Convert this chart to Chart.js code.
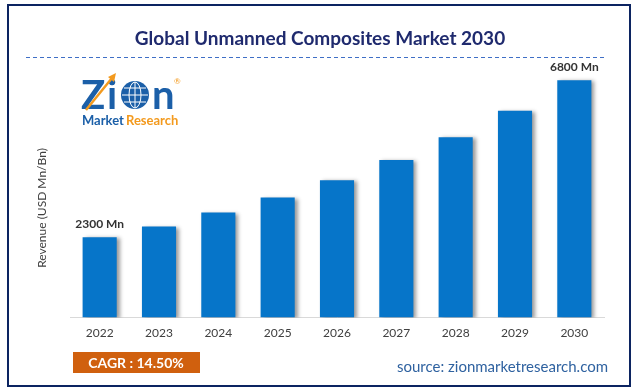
<!DOCTYPE html>
<html>
<head>
<meta charset="utf-8">
<script src="https://cdn.jsdelivr.net/npm/chart.js@4.4.1/dist/chart.umd.min.js"></script>
<style>
  html, body { margin: 0; padding: 0; background: #fff; }
  #wrap { width: 638px; height: 392px; position: relative; }
</style>
</head>
<body>
<div id="wrap"><canvas id="chart_unmannedComposites"></canvas></div>
<script>
// values (USD Mn)
var years = ['2022', '2023', '2024', '2025', '2026', '2027', '2028', '2029', '2030'];
var revenue = [2300, 2610, 3010, 3440, 3940, 4520, 5170, 5930, 6800];
var labelledBars = { 0: '2300 Mn', 8: '6800 Mn' };
var chartTitle = 'Global Unmanned Composites Market 2030';
var yTitle = 'Revenue (USD Mn/Bn)';
var cagrText = 'CAGR : 14.50%';
var sourceText = 'source: zionmarketresearch.com';

var FONT = 'Lato, "Open Sans", sans-serif';

var decorations = {
    id: 'decorations',
    beforeDraw: (chart) => {
        const ctx = chart.ctx;
        ctx.save();
        ctx.fillStyle = 'white';
        ctx.fillRect(0, 0, chart.width, chart.height);
        // frame
        ctx.strokeStyle = '#0c2461';
        ctx.lineWidth = 2;
        ctx.strokeRect(8, 5, 622, 381);
        // title
        ctx.fillStyle = '#1f2a6e';
        ctx.font = 'bold 19px ' + FONT;
        ctx.textAlign = 'center';
        ctx.textBaseline = 'middle';
        ctx.fillText(chartTitle, 320, 39);
        // dashed rule
        ctx.strokeStyle = '#3f6fc6';
        ctx.lineWidth = 1;
        ctx.setLineDash([4, 3]);
        ctx.beginPath();
        ctx.moveTo(26, 57.5);
        ctx.lineTo(604, 57.5);
        ctx.stroke();
        ctx.setLineDash([]);
        // y title
        ctx.save();
        ctx.translate(42, 208);
        ctx.rotate(-Math.PI / 2);
        ctx.fillStyle = '#404040';
        ctx.font = '12px ' + FONT;
        ctx.fillText(yTitle, 0, 0);
        ctx.restore();
        // logo
        ctx.textAlign = 'left';
        ctx.textBaseline = 'alphabetic';
        ctx.fillStyle = '#1b5fa8';
        ctx.font = 'bold 40px ' + FONT;
        ctx.fillText('Z', 81, 109);
        ctx.fillText('i', 107, 109);
        ctx.fillText('n', 152, 109);
        ctx.beginPath();
        ctx.arc(135, 95, 14, 0, Math.PI * 2);
        ctx.fill();
        ctx.strokeStyle = 'white';
        ctx.lineWidth = 1;
        ctx.beginPath();
        ctx.ellipse(135, 95, 6, 13, 0, 0, Math.PI * 2);
        ctx.moveTo(122, 95); ctx.lineTo(148, 95);
        ctx.moveTo(135, 82); ctx.lineTo(135, 108);
        ctx.moveTo(124, 88); ctx.lineTo(146, 88);
        ctx.moveTo(124, 102); ctx.lineTo(146, 102);
        ctx.stroke();
        ctx.strokeStyle = '#f39a1e';
        ctx.lineWidth = 2.5;
        ctx.beginPath();
        ctx.moveTo(86, 110);
        ctx.lineTo(112, 78);
        ctx.stroke();
        ctx.fillStyle = '#f39a1e';
        ctx.beginPath();
        ctx.moveTo(116, 73); ctx.lineTo(108, 77); ctx.lineTo(114, 82);
        ctx.fill();
        ctx.font = 'bold 13px ' + FONT;
        ctx.fillStyle = '#1b5fa8';
        ctx.fillText('Market', 82, 125);
        ctx.fillStyle = '#f39a1e';
        ctx.fillText('Research', 126, 125);
        ctx.font = '8px ' + FONT;
        ctx.fillText('\u00ae', 174, 84);
        // CAGR box
        ctx.fillStyle = '#d0600e';
        ctx.fillRect(73, 352, 127, 21);
        ctx.fillStyle = 'white';
        ctx.font = 'bold 14px ' + FONT;
        ctx.textAlign = 'center';
        ctx.textBaseline = 'middle';
        ctx.fillText(cagrText, 136, 363);
        // source
        ctx.fillStyle = '#2f62a0';
        ctx.font = '15px ' + FONT;
        ctx.textAlign = 'right';
        ctx.fillText(sourceText, 608, 367);
        ctx.restore();
    },
    beforeDatasetsDraw: (chart) => {
        const ctx = chart.ctx;
        ctx.save();
        ctx.shadowColor = 'rgba(0,0,0,0.4)';
        ctx.shadowOffsetX = 3;
        ctx.shadowOffsetY = 1;
        ctx.shadowBlur = 4;
    },
    afterDatasetsDraw: (chart) => {
        const ctx = chart.ctx;
        ctx.restore();
        ctx.save();
        ctx.fillStyle = '#333333';
        ctx.font = 'bold 12px ' + FONT;
        ctx.textAlign = 'center';
        ctx.textBaseline = 'middle';
        chart.getDatasetMeta(0).data.forEach((bar, i) => {
            if (labelledBars[i]) ctx.fillText(labelledBars[i], bar.x, bar.y - 13);
        });
        ctx.restore();
    }
};

var chart_unmannedComposites = new Chart(document.getElementById('chart_unmannedComposites'), {
    type: 'bar',
    data: {
        labels: years,
        datasets: [{
            label: 'Revenue',
            data: revenue,
            backgroundColor: '#0675c9',
            borderWidth: 0,
            categoryPercentage: 1,
            barPercentage: 0.575
        }]
    },
    options: {
        animation: false,
        responsive: true,
        maintainAspectRatio: false,
        layout: {
            padding: { left: 70, right: 34, top: 57, bottom: 52 }
        },
        plugins: {
            legend: { display: false },
            title: { display: false },
            tooltip: { enabled: false }
        },
        scales: {
            x: {
                grid: { display: false },
                border: { display: true, color: '#d9d9d9', width: 1 },
                ticks: {
                    color: '#404040',
                    font: { family: FONT, size: 12 },
                    padding: 0
                }
            },
            y: {
                display: false,
                min: 0,
                max: 7470
            }
        }
    },
    plugins: [decorations]
});
</script>
</body>
</html>
